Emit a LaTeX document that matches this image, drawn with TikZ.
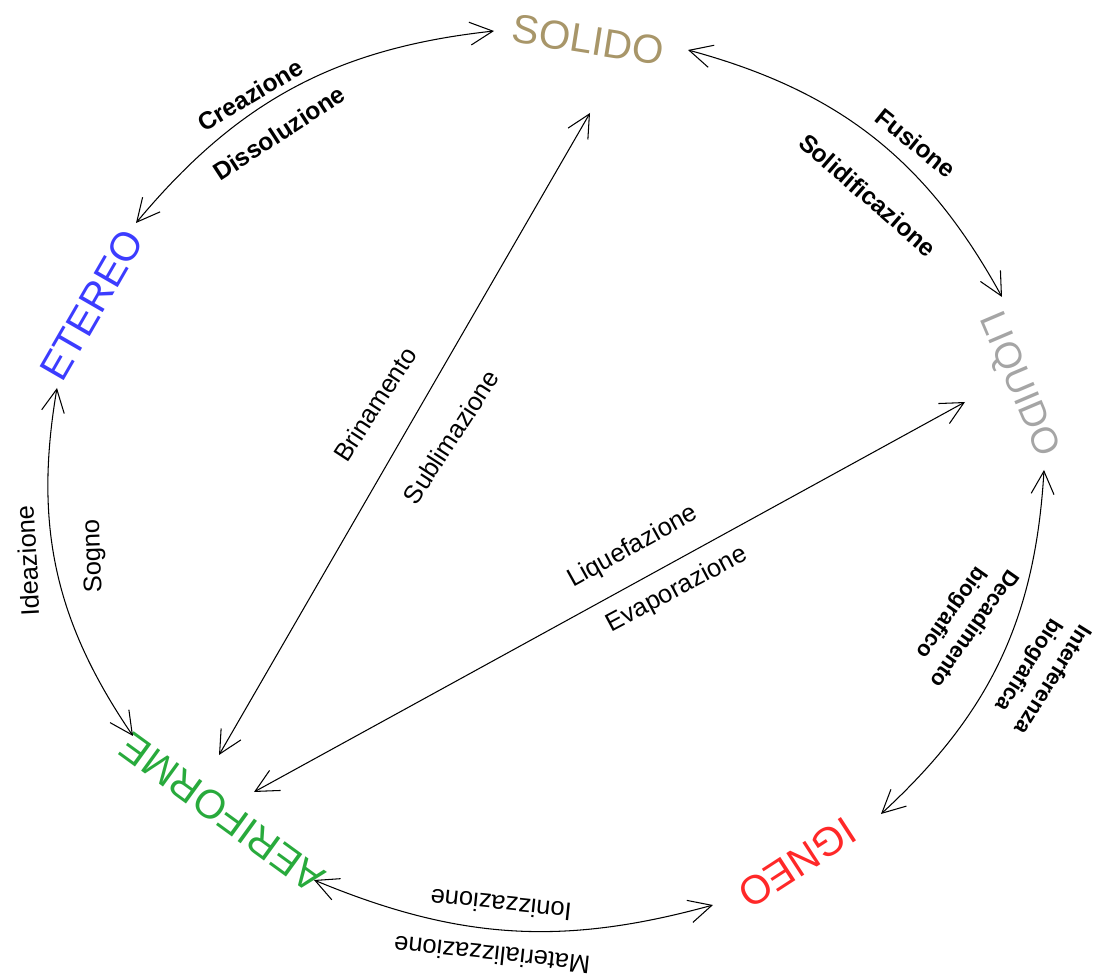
\documentclass[tikz,border=0pt]{standalone}
\usepackage{fontspec}
\setmainfont{Liberation Sans}
\usetikzlibrary{arrows.meta}
\definecolor{solidoc}{RGB}{168,150,105}
\definecolor{liquidoc}{RGB}{165,165,165}
\definecolor{igneoc}{RGB}{255,40,40}
\definecolor{aerifc}{RGB}{40,170,60}
\definecolor{etereoc}{RGB}{60,60,255}
\begin{document}
\begin{tikzpicture}[x=0.02cm,y=0.02cm,
  statename/.style={inner sep=0pt,font=\fontsize{23}{26}\selectfont},
  lbl/.style={inner sep=0pt,align=center,font=\fontsize{14.5}{17}\selectfont},
  blbl/.style={inner sep=0pt,align=center,font=\fontsize{14}{17}\selectfont\bfseries},
  sblbl/.style={inner sep=0pt,align=center,font=\fontsize{12.5}{16}\selectfont\bfseries},
  conn/.style={line width=0.6pt,{Straight Barb[length=13pt,width=13pt]}-{Straight Barb[length=13pt,width=13pt]}}]
\useasboundingbox (0,0) rectangle (1093,-976);
% state names
\node[statename,text=solidoc,rotate=-9] (solido) at (588,-40) {SOLIDO};
\node[statename,text=liquidoc,rotate=-67,font=\fontsize{21}{24}\selectfont] (liquido) at (1018,-385) {LIQUIDO};
\node[statename,text=igneoc,rotate=213] (igneo) at (797,-863) {IGNEO};
\node[statename,text=aerifc,rotate=144] (aeriforme) at (222,-813) {AERIFORME};
\node[statename,text=etereoc,rotate=60] (etereo) at (92,-305) {ETEREO};
% arrow end points
\coordinate (e1a) at (136,-223);
\coordinate (e1b) at (494,-31);
\coordinate (a2a) at (688,-50);
\coordinate (a2b) at (1002,-297);
\coordinate (a3a) at (1044,-470);
\coordinate (a3b) at (881,-814);
\coordinate (a4a) at (713,-905);
\coordinate (a4b) at (314,-880);
\coordinate (a5a) at (133,-736);
\coordinate (a5b) at (57,-388);
\coordinate (s1) at (590,-113);
\coordinate (s2) at (219,-755);
\coordinate (l1) at (965,-402);
\coordinate (l2) at (254,-792);
% arcs
\draw[conn] (e1a) to[bend left=22] (e1b);
\draw[conn] (a2a) to[bend left=23] (a2b);
\draw[conn] (a3a) to[bend left=22] (a3b);
\draw[conn] (a4a) to[bend left=19] (a4b);
\draw[conn] (a5a) to[bend left=22] (a5b);
% straight arrows
\draw[conn] (s2) -- (s1);
\draw[conn] (l2) -- (l1);
% labels
\node[blbl,rotate=31] (creaz) at (250,-95) {Creazione};
\node[blbl,rotate=33] (dissol) at (279,-133) {Dissoluzione};
\node[blbl,rotate=-39] (fusione) at (916,-143) {Fusione};
\node[blbl,rotate=-41] (solidif) at (868,-195) {Solidificazione};
\node[sblbl,rotate=235] (decad) at (962,-620) {Decadimento\\biografico};
\node[sblbl,rotate=238] (interf) at (1040,-672) {Interferenza\\biografica};
\node[lbl,rotate=93] (ideaz) at (28,-561) {Ideazione};
\node[lbl,rotate=92] (sogno) at (94,-556) {Sogno};
\node[lbl,rotate=174] (ioniz) at (501,-905) {Ionizzazione};
\node[lbl,rotate=174] (materi) at (492,-955) {Materializzazione};
\node[lbl,rotate=57] (brinam) at (375,-404) {Brinamento};
\node[lbl,rotate=57] (sublim) at (451,-437) {Sublimazione};
\node[lbl,rotate=29] (liquef) at (633,-547) {Liquefazione};
\node[lbl,rotate=28] (evapor) at (677,-590) {Evaporazione};
\end{tikzpicture}
\end{document}
